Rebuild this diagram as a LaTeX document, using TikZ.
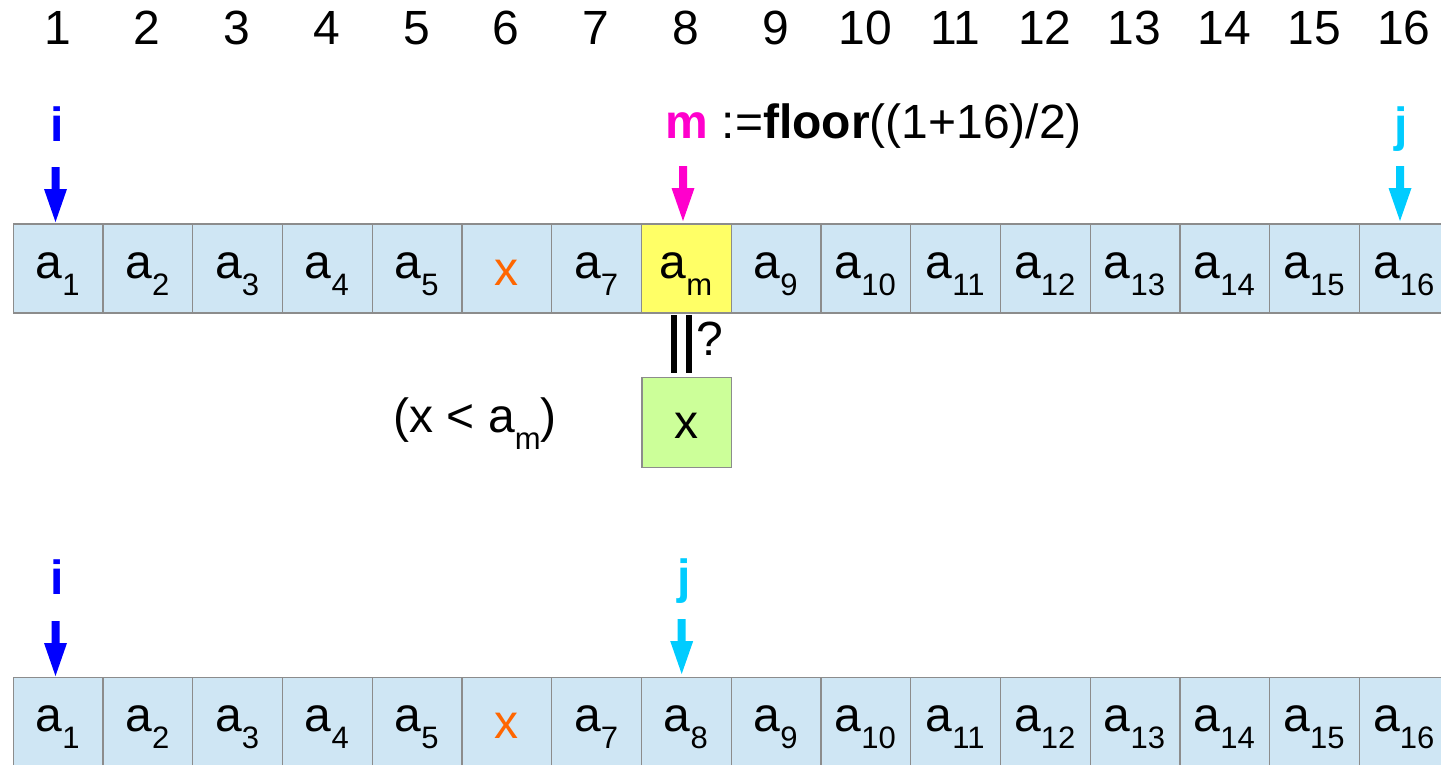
\documentclass[tikz,border=0pt]{standalone}
\usepackage{fontspec}
\setmainfont{Liberation Sans}
\usetikzlibrary{calc}
\definecolor{cellblue}{HTML}{CFE6F4}
\definecolor{cellyellow}{HTML}{FFFF66}
\definecolor{cellgreen}{HTML}{CCFF99}
\definecolor{cellborder}{HTML}{8C8C8C}
\definecolor{ptrblue}{HTML}{0000FF}
\definecolor{ptrcyan}{HTML}{00CCFF}
\definecolor{ptrmag}{HTML}{FF00CC}
\definecolor{xorange}{HTML}{FF6600}
\newcommand\bigtxt{\fontsize{48}{56}\selectfont}
\newcommand\subtxt[1]{\raisebox{-17pt}{\fontsize{31}{31}\selectfont #1}}
\newcommand\pointer[2]{%
  \fill[#1] ($(#2)+(-4,-55)$) -- ($(#2)+(4,-55)$) -- ($(#2)+(4,-33)$) -- ($(#2)+(11.5,-33)$)
    -- (#2) -- ($(#2)+(-11.5,-33)$) -- ($(#2)+(-4,-33)$) -- cycle;}
\begin{document}
\begin{tikzpicture}[x=1pt,y=-1pt,
  cellbox/.style={draw=cellborder,line width=1.2pt,fill=cellblue,minimum width=89.75pt,minimum height=89pt,inner sep=0pt,anchor=north west},
  txt/.style={inner sep=0pt,anchor=base,font=\bigtxt},
  lbl/.style={inner sep=0pt,anchor=base,font=\bigtxt\bfseries}]
\useasboundingbox (0,0) rectangle (1441,764);
\clip (0,0) rectangle (1441,764);
% top index numbers
\foreach \k in {1,...,16}{
  \node[txt] (n\k) at ({12.7+89.75*(\k-0.5)},44) {\k};
}
% row 1 cells
\foreach \k in {1,...,16}{
  \node[cellbox] (r1c\k) at ({12.7+89.75*(\k-1)},223.3) {};
  \node[cellbox] (r2c\k) at ({12.7+89.75*(\k-1)},676.7) {};
}
\node[cellbox,fill=cellyellow] (r1c8y) at ({12.7+89.75*7},223.3) {};
% row 1 texts
\foreach \k in {1,2,3,4,5,7,9,10,11,12,13,14,15,16}{
  \node[txt] (t1\k) at ({12.7+89.75*(\k-0.5)},278) {a\subtxt{\k}};
  \node[txt] (t2\k) at ({12.7+89.75*(\k-0.5)},731.4) {a\subtxt{\k}};
}
\node[txt] (t18) at ({12.7+89.75*7.5},278) {a\subtxt{m}};
\node[txt] (t28) at ({12.7+89.75*7.5},731.4) {a\subtxt{8}};
\node[txt,text=xorange] (t16x) at ({12.7+89.75*5.5},285) {x};
\node[txt,text=xorange] (t26x) at ({12.7+89.75*5.5},738.4) {x};
% labels row 1
\node[lbl,text=ptrblue] (i1) at (57,141) {i};
\node[lbl,text=ptrcyan] (j1) at (1401,141) {j};
\node[txt,anchor=base west] (m1) at (665.5,138.5) {{\bfseries\color{ptrmag}m} :={\bfseries floor}((1+16)/2)};
% pointers row 1
\coordinate (ip1) at (55.5,222);
\coordinate (mp1) at (683,221);
\coordinate (jp1) at (1400,221);
\pointer{ptrblue}{ip1}
\pointer{ptrmag}{mp1}
\pointer{ptrcyan}{jp1}
% comparison
\fill (670.7,315) rectangle (677,373);
\fill (685.7,315) rectangle (692,373);
\node[txt,anchor=base west] (q) at (696,355) {?};
\node[draw=cellborder,line width=1.2pt,fill=cellgreen,minimum width=89.75pt,minimum height=89.5pt,inner sep=0pt,anchor=north west] (xbox) at (641.3,377) {};
\node[txt] (xtxt) at (xbox.center |- 0,438) {x};
\node[txt] (cond) at (475,432) {(x < a\subtxt{m})};
% labels row 2
\node[lbl,text=ptrblue] (i2) at (57,594) {i};
\node[lbl,text=ptrcyan] (j2) at (684,593) {j};
\coordinate (ip2) at (55.5,676);
\coordinate (jp2) at (681.7,674);
\pointer{ptrblue}{ip2}
\pointer{ptrcyan}{jp2}
\end{tikzpicture}
\end{document}
